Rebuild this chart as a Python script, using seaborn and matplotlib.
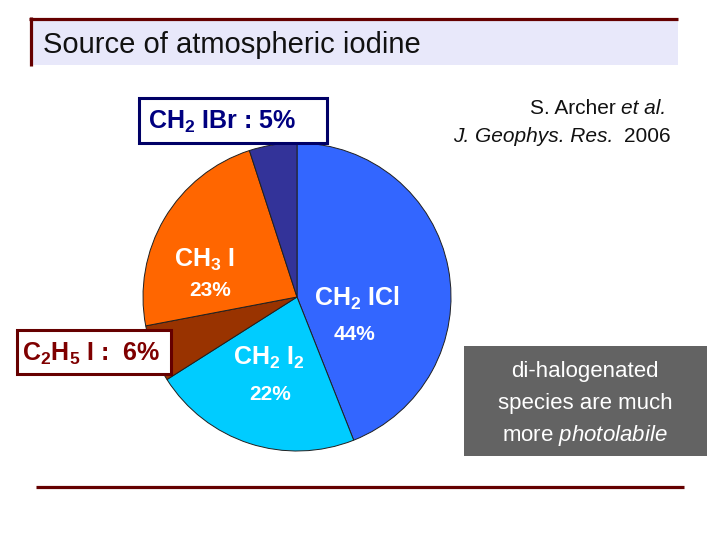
import matplotlib
matplotlib.use("Agg")
import matplotlib.pyplot as plt
import seaborn as sns
from matplotlib.patches import Rectangle

# Données du camembert (sens horaire depuis midi)
species = ["CH2ICl", "CH2I2", "C2H5I", "CH3I", "CH2IBr"]
shares = [44, 22, 6, 23, 5]
slice_colors = ["#3366FF", "#00CCFF", "#993300", "#FF6600", "#333399"]

title = "Source of atmospheric iodine"
note_lines = ["di-halogenated", "species are much", r"more $\mathit{photolabile}$"]

sns.set_theme(style="white")
plt.rcParams["font.family"] = ["Liberation Sans", "DejaVu Sans"]
plt.rcParams["mathtext.fontset"] = "custom"
plt.rcParams["mathtext.rm"] = "Liberation Sans"
plt.rcParams["mathtext.it"] = "Liberation Sans:italic"
plt.rcParams["mathtext.bf"] = "Liberation Sans:bold"

W, H = 720, 540
fig = plt.figure(figsize=(7.2, 5.4), dpi=100)
fig.patch.set_facecolor("white")

# fond en coordonnées pixels
bg = fig.add_axes([0, 0, 1, 1], zorder=0)
bg.set_xlim(0, W)
bg.set_ylim(H, 0)
bg.axis("off")

maroon = "#650000"
bg.add_patch(Rectangle((33, 21), 645, 44, facecolor="#E8E8FA", edgecolor="none"))
bg.plot([29, 678], [18.5, 18.5], color=maroon, lw=2.3, solid_capstyle="butt")
bg.plot([30.5, 30.5], [17, 66], color=maroon, lw=2.3, solid_capstyle="butt")
bg.plot([36, 684], [487, 487], color=maroon, lw=2.3, solid_capstyle="butt")
bg.text(43, 45, title, fontsize=21, color="#111111", ha="left", va="center")

# camembert
cx, cy, R, pad = 297, 297, 154, 4
side = 2 * (R + pad)
pie_ax = fig.add_axes([(cx - R - pad) / W, (H - cy - R - pad) / H, side / W, side / H], zorder=1)
pal = sns.color_palette(slice_colors)
pie_ax.pie(shares, colors=pal, startangle=90, counterclock=False, radius=1,
           wedgeprops=dict(edgecolor="#202020", linewidth=0.7))
lim = (R + pad) / R
pie_ax.set_xlim(-lim, lim)
pie_ax.set_ylim(-lim, lim)
pie_ax.set_aspect("equal")
pie_ax.axis("off")

# calque du dessus pour les étiquettes
top = fig.add_axes([0, 0, 1, 1], zorder=2)
top.set_xlim(0, W)
top.set_ylim(H, 0)
top.axis("off")
top.patch.set_alpha(0)

bold_white = dict(color="white", fontweight="bold", ha="center", va="center")
top.text(204, 260, r"CH$_\mathbf{3}$ I", fontsize=18, **bold_white)
top.text(210, 290, "23%", fontsize=15, **bold_white)
top.text(357, 298, r"CH$_\mathbf{2}$ ICl", fontsize=18, **bold_white)
top.text(354, 334, "44%", fontsize=15, **bold_white)
top.text(269, 358, r"CH$_\mathbf{2}$ I$_\mathbf{2}$", fontsize=18, **bold_white)
top.text(270, 395, "22%", fontsize=15, **bold_white)

top.add_patch(Rectangle((139, 98), 188, 45, facecolor="white", edgecolor="#000066", lw=2.2))
top.text(222, 122, r"CH$_\mathbf{2}$ IBr : 5%", fontsize=18, color="#000080",
         fontweight="bold", ha="center", va="center")

top.add_patch(Rectangle((17, 330), 154, 44, facecolor="white", edgecolor="#660000", lw=2.2))
top.text(91, 354, r"C$_\mathbf{2}$H$_\mathbf{5}$ I :  6%", fontsize=18, color="#7F0000",
         fontweight="bold", ha="center", va="center")

# référence bibliographique
ref = dict(fontsize=15, color="#111111", va="center")
t_al = top.text(666, 109, "et al.", style="italic", ha="right", **ref)
top.annotate("S. Archer", xy=(0, 0.5), xycoords=t_al, xytext=(-4, 0),
             textcoords="offset points", ha="right", **ref)
t_year = top.text(671, 136, "2006", ha="right", **ref)
top.annotate("J. Geophys. Res.", xy=(0, 0.5), xycoords=t_year, xytext=(-8, 0),
             textcoords="offset points", ha="right", style="italic", **ref)

# encadré gris
top.add_patch(Rectangle((464, 346), 243, 110, facecolor="#636363", edgecolor="none"))
for y, line in zip([371, 403, 435], note_lines):
    top.text(585, y, line, fontsize=16, color="white", ha="center", va="center")

fig.savefig("out.png", dpi=100)
